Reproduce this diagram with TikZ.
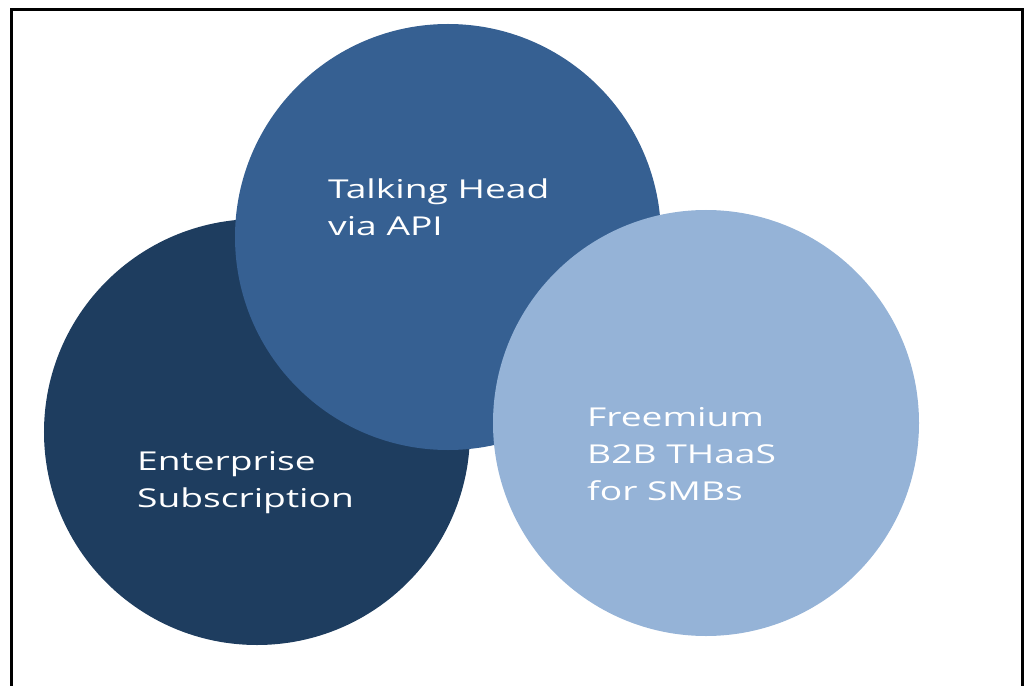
\documentclass[tikz,border=0pt]{standalone}
\usepackage{fontspec}
\setmainfont{Open Sans}[FakeStretch=1.43]
\definecolor{cdark}{RGB}{30,61,95}
\definecolor{cmid}{RGB}{54,96,146}
\definecolor{clight}{RGB}{149,179,215}
\begin{document}
\begin{tikzpicture}[x=1bp,y=-1bp,
  venn/.style={circle,inner sep=0pt,minimum size=426bp},
  lbl/.style={text=white,font=\fontsize{26bp}{37bp}\selectfont,align=left,anchor=north west,inner sep=0pt}]
\useasboundingbox (0,0) rectangle (1026,686);
\draw[line width=3bp] (11.5,690) -- (11.5,9.5) -- (1022.5,9.5) -- (1022.5,690);
\node[venn,fill=cdark] (ent) at (257,432) {};
\node[venn,fill=cmid] (talk) at (448,237) {};
\node[venn,fill=clight] (free) at (706,423) {};
\node[lbl] (tl) at (328,179) {Talking Head\\via API};
\node[lbl] (el) at (137,451) {Enterprise\\Subscription};
\node[lbl] (fl) at (587,407) {Freemium\\B2B THaaS\\for SMBs};
\end{tikzpicture}
\end{document}
